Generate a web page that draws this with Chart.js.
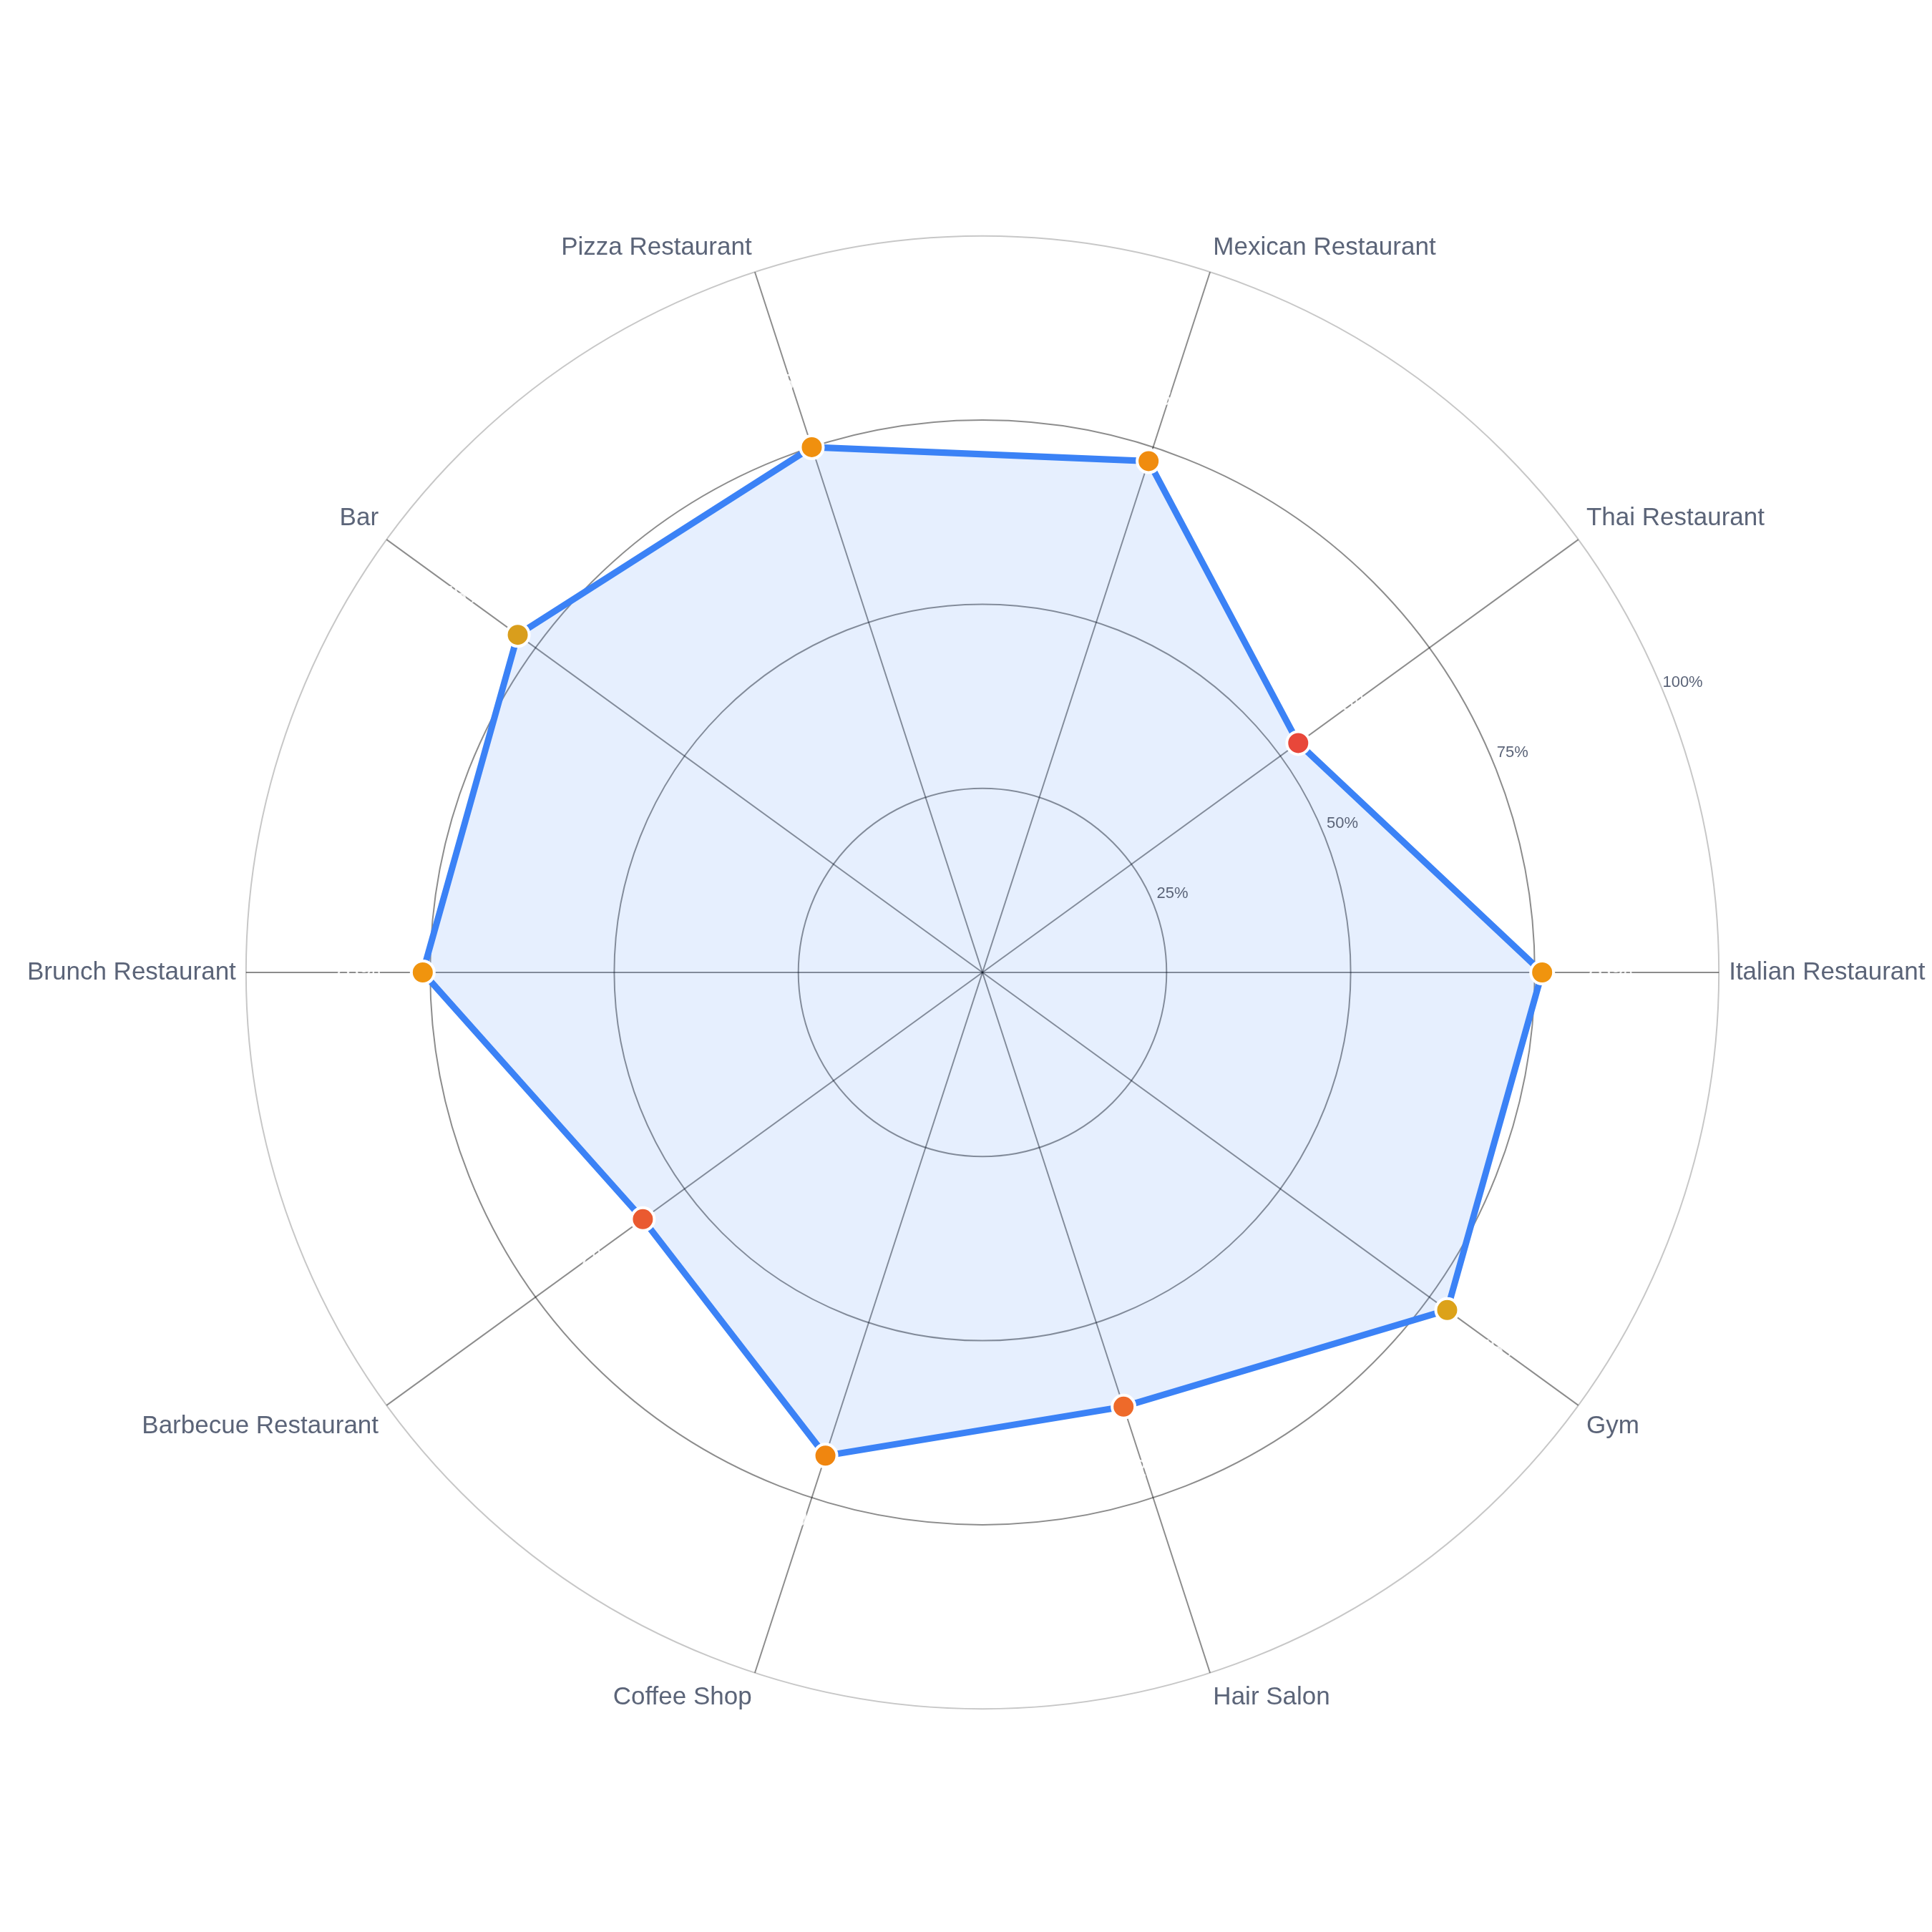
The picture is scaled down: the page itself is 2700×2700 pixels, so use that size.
<!DOCTYPE html>
<html><head><meta charset="utf-8">
<script src="https://cdn.jsdelivr.net/npm/chart.js@4/dist/chart.umd.min.js"></script>
<style>html,body{margin:0;padding:0;background:#fff}</style>
</head><body>
<canvas id="c" width="2700" height="2700" style="width:2700px;height:2700px"></canvas>
<script>
const categories = ["Italian Restaurant","Gym","Hair Salon","Coffee Shop","Barbecue Restaurant","Brunch Restaurant","Bar","Pizza Restaurant","Mexican Restaurant","Thai Restaurant"];
const values = [76, 78, 62, 69, 57, 76, 78, 75, 73, 53];
const pointColors = ["#f0940e","#dca21a","#ee6a2a","#f0860f","#ea5a30","#f0940e","#d99e1c","#f0900e","#f08c0f","#e8473a"];
const tickValues = [25, 50, 75, 100];

const extras = {
  id: 'extras',
  afterDatasetsDraw(chart) {
    const s = chart.scales.r, ctx = chart.ctx;
    ctx.save();
    ctx.textAlign = 'center'; ctx.textBaseline = 'middle';
    ctx.font = '34px "Liberation Sans", Arial, sans-serif';
    ctx.fillStyle = 'rgba(255,255,255,0.85)';
    values.forEach((v, i) => {
      const p = s.getPointPositionForValue(i, v + 9);
      ctx.fillText(v + '%', p.x, p.y);
    });
    ctx.font = '22px "Liberation Sans", Arial, sans-serif';
    ctx.fillStyle = '#5b6478';
    const a = -22.5 * Math.PI / 180;
    tickValues.forEach(t => {
      const r = s.getDistanceFromCenterForValue(t) + 30;
      ctx.fillText(t + '%', s.xCenter + r * Math.cos(a), s.yCenter + r * Math.sin(a));
    });
    ctx.restore();
  }
};

new Chart(document.getElementById('c'), {
  type: 'radar',
  data: { labels: categories, datasets: [{
    data: values,
    borderColor: '#3b82f6', borderWidth: 9,
    backgroundColor: 'rgba(59,130,246,0.13)', fill: true,
    pointBackgroundColor: pointColors, pointBorderColor: '#ffffff',
    pointBorderWidth: 4, pointRadius: 16, pointHoverRadius: 16
  }]},
  options: {
    responsive: false, animation: false,
    layout: { padding: { left: 30, right: 0, top: 260, bottom: 240 } },
    plugins: { legend: { display: false }, tooltip: { enabled: false } },
    scales: { r: {
      min: 0, max: 100, startAngle: 90,
      ticks: { stepSize: 25, display: false },
      grid: { circular: true, color: (c) => c.tick && c.tick.value === 100 ? 'rgba(0,0,0,0.22)' : 'rgba(0,0,0,0.45)', lineWidth: 2 },
      angleLines: { color: 'rgba(0,0,0,0.45)', lineWidth: 2 },
      pointLabels: { color: '#5b6478', font: { size: 35, family: 'Liberation Sans' }, padding: 14 }
    }}
  },
  plugins: [extras]
});
</script>
</body></html>
